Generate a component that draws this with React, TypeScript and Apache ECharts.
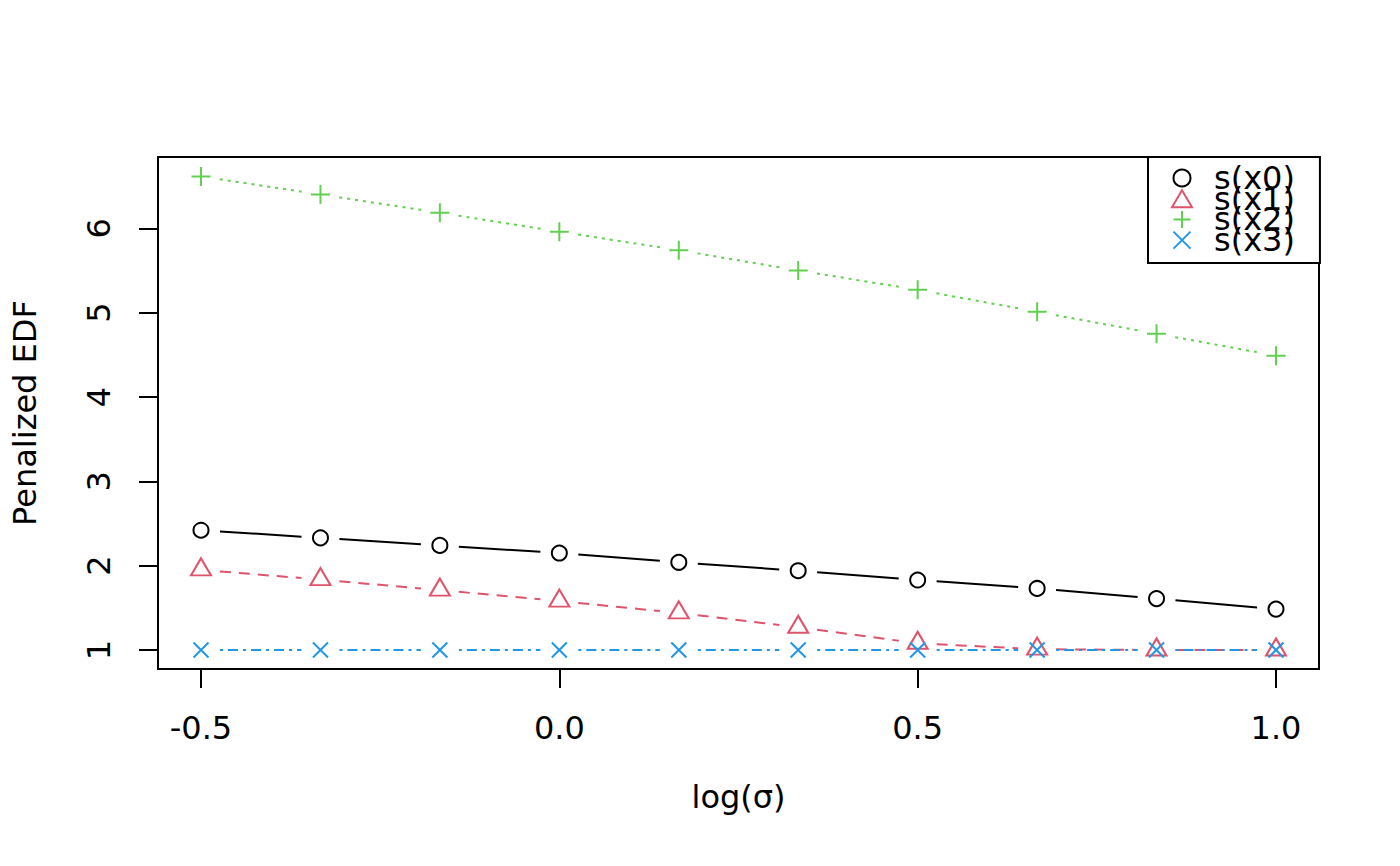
import React, { useEffect, useRef } from "react";
import * as echarts from "echarts";

const logSigma = [-0.5, -0.3333, -0.1667, 0.0, 0.1667, 0.3333, 0.5, 0.6667, 0.8333, 1.0];
const sx0 = [2.42, 2.33, 2.24, 2.15, 2.04, 1.94, 1.83, 1.73, 1.61, 1.485];
const sx1 = [1.95, 1.835, 1.71, 1.58, 1.44, 1.27, 1.08, 1.01, 1.0, 1.0];
const sx2 = [6.615, 6.4, 6.185, 5.96, 5.74, 5.5, 5.27, 5.01, 4.75, 4.49];
const sx3 = [1.0, 1.0, 1.0, 1.0, 1.0, 1.0, 1.0, 1.0, 1.0, 1.0];
const seriesNames = ["s(x0)", "s(x1)", "s(x2)", "s(x3)"];
const xTicks = [-0.5, 0.0, 0.5, 1.0];
const yTicks = [1, 2, 3, 4, 5, 6];

const FONT = "DejaVu Sans";
const FS = 32;

export default function App() {
  const ref = useRef<HTMLDivElement>(null);
  useEffect(() => {
    if (!ref.current) return;
    const chart = echarts.init(ref.current, undefined, { renderer: "svg" });
    const all = [sx0, sx1, sx2, sx3];
    const colors = ["#000000", "#DF536B", "#61D04F", "#2297E6"];
    const dashes: any[] = ["solid", [11, 8], [3, 5], [3, 5, 10, 5]];
    const symbols = [
      "circle",
      "triangle",
      "path://M0,-1L0,1M-1,0L1,0",
      "path://M-1,-1L1,1M-1,1L1,-1",
    ];
    const sizes: any[] = [15, [20, 17], 19, 15];
    const offsets: any[] = [[0, 0], [0, -3], [0, 0], [0, 0]];
    const GAP = 19;

    const lineSeries = all.map((ys, si) => ({
      type: "custom",
      name: seriesNames[si] + "-line",
      silent: true,
      z: 1,
      data: ys.slice(0, -1).map((y, i) => [logSigma[i], y, logSigma[i + 1], ys[i + 1]]),
      encode: { x: [0, 2], y: [1, 3] },
      renderItem: (params: any, api: any) => {
        const p1 = api.coord([api.value(0), api.value(1)]);
        const p2 = api.coord([api.value(2), api.value(3)]);
        const dx = p2[0] - p1[0];
        const dy = p2[1] - p1[1];
        const len = Math.sqrt(dx * dx + dy * dy);
        if (len <= 2 * GAP) return null;
        const ux = dx / len;
        const uy = dy / len;
        return {
          type: "line",
          shape: {
            x1: p1[0] + ux * GAP,
            y1: p1[1] + uy * GAP,
            x2: p2[0] - ux * GAP,
            y2: p2[1] - uy * GAP,
          },
          style: {
            stroke: colors[si],
            lineWidth: 2,
            lineDash: dashes[si] === "solid" ? null : dashes[si],
            fill: null,
          },
        };
      },
    }));

    const pointSeries = all.map((ys, si) => ({
      type: "scatter",
      name: seriesNames[si],
      z: 2,
      symbol: symbols[si],
      symbolSize: sizes[si],
      symbolOffset: offsets[si],
      symbolKeepAspect: true,
      data: ys.map((y, i) => [logSigma[i], y]),
      itemStyle: {
        color: "rgba(0,0,0,0)",
        borderColor: colors[si],
        borderWidth: 2,
        opacity: 1,
      },
      emphasis: { disabled: true },
    }));

    chart.setOption({
      animation: false,
      backgroundColor: "#ffffff",
      textStyle: { fontFamily: FONT },
      grid: {
        left: 158,
        top: 157,
        right: 81,
        bottom: 197,
        show: true,
        borderColor: "#000",
        borderWidth: 2,
        backgroundColor: "transparent",
      },
      xAxis: {
        type: "value",
        min: -0.56,
        max: 1.06,
        name: "log(σ)",
        nameLocation: "middle",
        nameGap: 112,
        nameTextStyle: { fontSize: FS, color: "#000", fontFamily: FONT },
        axisLine: { show: false, onZero: false },
        splitLine: { show: false },
        axisTick: {
          show: true,
          length: 19,
          customValues: xTicks,
          lineStyle: { color: "#000", width: 2 },
        },
        axisLabel: {
          customValues: xTicks,
          fontSize: FS,
          color: "#000",
          fontFamily: FONT,
          margin: 43,
          formatter: (v: number) => v.toFixed(1),
        },
      },
      yAxis: {
        type: "value",
        min: 0.775,
        max: 6.845,
        name: "Penalized EDF",
        nameLocation: "middle",
        nameGap: 117,
        nameRotate: 90,
        nameTextStyle: { fontSize: FS, color: "#000", fontFamily: FONT },
        axisLine: { show: false, onZero: false },
        splitLine: { show: false },
        axisTick: {
          show: true,
          length: 19,
          customValues: yTicks,
          lineStyle: { color: "#000", width: 2 },
        },
        axisLabel: {
          customValues: yTicks,
          rotate: 90,
          fontSize: FS,
          color: "#000",
          fontFamily: FONT,
          margin: 43,
          formatter: (v: number) => String(Math.round(v)),
        },
      },
      legend: {
        data: seriesNames,
        orient: "vertical",
        left: 1148,
        top: 157,
        padding: [5, 25, 7, 23],
        itemWidth: 20,
        itemHeight: 17,
        itemGap: -11.3,
        borderColor: "#000",
        borderWidth: 2,
        borderRadius: 0,
        backgroundColor: "#fff",
        selectedMode: false,
        textStyle: {
          fontSize: FS,
          color: "#000",
          fontFamily: FONT,
          padding: [0, 0, 0, 17],
        },
      },
      series: [...lineSeries, ...pointSeries],
    });
    return () => chart.dispose();
  }, []);
  return (
    <div
      ref={ref}
      style={{ position: "fixed", left: 0, top: 0, width: 1400, height: 866 }}
    />
  );
}
